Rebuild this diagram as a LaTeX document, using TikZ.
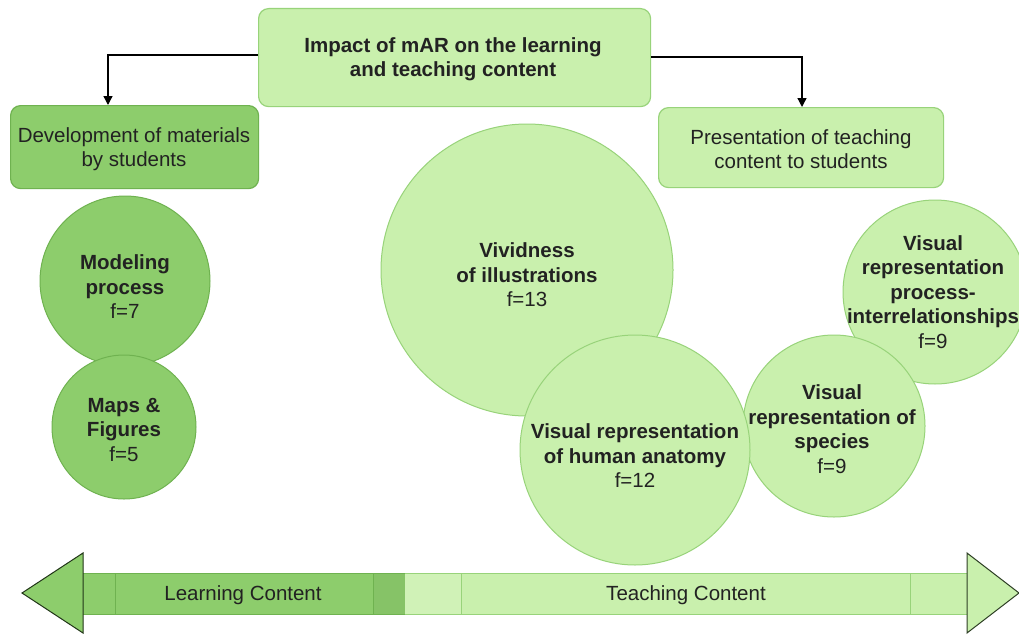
\documentclass[tikz,border=0pt]{standalone}
\usepackage{fontspec}
\setmainfont{Liberation Sans}
\usetikzlibrary{arrows.meta}
\definecolor{lightfill}{HTML}{C9F0AD}
\definecolor{lightdraw}{HTML}{98D37A}
\definecolor{darkfill}{HTML}{8DCD6C}
\definecolor{darkdraw}{HTML}{6FB250}
\definecolor{txt}{HTML}{222222}
\tikzset{
  lbox/.style={draw=lightdraw, fill=lightfill, line width=1.2pt, rounded corners=10pt, anchor=north west, inner sep=0pt},
  dbox/.style={draw=darkdraw, fill=darkfill, line width=1.2pt, rounded corners=10pt, anchor=north west, inner sep=0pt},
  lcirc/.style={circle, draw=lightdraw, fill=lightfill, line width=1pt, inner sep=0pt},
  dcirc/.style={circle, draw=darkdraw, fill=darkfill, line width=1pt, inner sep=0pt},
  btxt/.style={font=\fontsize{20.5}{24.5}\selectfont\bfseries, text=txt, align=center, inner sep=0pt},
  rtxt/.style={font=\fontsize{20.5}{24.5}\selectfont, text=txt, align=center, inner sep=0pt},
  conn/.style={draw=black, line width=1.3pt, -{Triangle[length=9pt,width=9pt]}},
  seg/.style={line width=0.8pt},
}
\newcommand{\fr}[1]{{\fontseries{m}\selectfont #1}}
\begin{document}
\begin{tikzpicture}[x=1pt,y=-1pt]
\useasboundingbox (0,0) rectangle (1019,634);
\clip (0,0) rectangle (1019,634);
\fill[white] (0,0) rectangle (1019,634);

% boxes
\node[lbox, minimum width=392pt, minimum height=98pt] (top) at (258,8) {};
\node[btxt] (toptxt) at (453,59) {Impact of mAR on the learning\\and teaching content};
\node[dbox, minimum width=248pt, minimum height=83pt] (left) at (10,105) {};
\node[rtxt] (lefttxt) at (134,149) {Development of materials\\by students};
\node[lbox, minimum width=285pt, minimum height=80pt] (right) at (658,107) {};
\node[rtxt] (righttxt) at (801,149) {Presentation of teaching\\content to students};

% connectors
\coordinate (lt) at (108,55);
\coordinate (rt) at (802,57);
\draw[conn] (top.west |- lt) -- (lt) -- (lt |- left.north);
\draw[conn] (top.east |- rt) -- (rt) -- (rt |- right.north);

% circles (right group)
\node[lcirc, minimum size=184pt] (c5) at (935,292) {};
\node[btxt] (t5) at (933,292) {Visual\\representation\\process-\\interrelationships\\\fr{f=9}};
\node[lcirc, minimum size=182pt] (c4) at (834,426) {};
\node[btxt] (t4) at (832,429) {Visual\\representation of\\species\\\fr{f=9}};
\node[lcirc, minimum size=292pt] (c1) at (527,270) {};
\node[btxt] (t1) at (527,275) {Vividness\\of illustrations\\\fr{f=13}};
\node[lcirc, minimum size=230pt] (c2) at (635,450) {};
\node[btxt] (t2) at (635,456) {Visual representation\\of human anatomy\\\fr{f=12}};

% circles (left group)
\node[dcirc, minimum size=170pt] (m1) at (125,281) {};
\node[btxt] (tm1) at (125,287) {Modeling\\process\\\fr{f=7}};
\node[dcirc, minimum size=144pt] (m2) at (124,427) {};
\node[btxt] (tm2) at (124,430) {Maps \&\\Figures\\\fr{f=5}};

% bottom double arrow
\fill[darkfill] (83,573) rectangle (405,614);
\fill[darkfill!95!black] (373,573) rectangle (405,614);
\fill[lightfill] (405,573) rectangle (967,614);
\fill[lightfill!88!white] (405,573) rectangle (461,614);
\draw[seg, draw=darkdraw] (115,573) -- (115,614);
\draw[seg, draw=darkdraw] (373,573) -- (373,614);
\draw[seg, draw=lightdraw] (461,573) -- (461,614);
\draw[seg, draw=lightdraw] (910,573) -- (910,614);
\draw[line width=1pt, draw=darkdraw] (83,573) -- (405,573) (83,614) -- (405,614);
\draw[line width=1pt, draw=lightdraw] (405,573) -- (967,573) (405,614) -- (967,614);
\draw[line width=1pt, draw=black!70!darkdraw, fill=darkfill] (83,553) -- (83,633) -- (22,593) -- cycle;
\draw[line width=1pt, draw=black!70!lightdraw, fill=lightfill] (967,553) -- (967,633) -- (1019,593) -- cycle;
\node[rtxt] (learn) at (243,595) {Learning Content};
\node[rtxt] (teach) at (686,595) {Teaching Content};
\end{tikzpicture}
\end{document}
